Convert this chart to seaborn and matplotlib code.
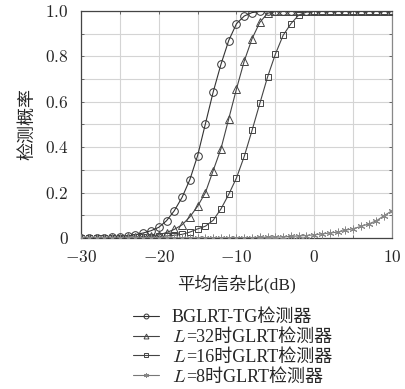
import numpy as np
import pandas as pd
import seaborn as sns
import matplotlib
matplotlib.use("Agg")
import matplotlib.pyplot as plt
from matplotlib.lines import Line2D
from matplotlib.ticker import MultipleLocator
from matplotlib.transforms import Affine2D

snr = list(range(-30, 11))
bglrt = [0.001, 0.001, 0.001, 0.002, 0.003, 0.005, 0.009, 0.015, 0.022, 0.032,
         0.047, 0.076, 0.12, 0.179, 0.257, 0.363, 0.503, 0.643, 0.765, 0.87,
         0.944, 0.978, 0.993, 0.998, 1.0, 1.0, 1.0, 1.0, 1.0, 1.0,
         1.0, 1.0, 1.0, 1.0, 1.0, 1.0, 1.0, 1.0, 1.0, 1.0, 1.0]
glrt32 = [0.001, 0.001, 0.001, 0.001, 0.002, 0.002, 0.003, 0.004, 0.006, 0.009,
          0.014, 0.024, 0.038, 0.058, 0.093, 0.14, 0.2, 0.297, 0.393, 0.525,
          0.657, 0.78, 0.878, 0.95, 0.99, 0.998, 1.0, 1.0, 1.0, 1.0,
          1.0, 1.0, 1.0, 1.0, 1.0, 1.0, 1.0, 1.0, 1.0, 1.0, 1.0]
glrt16 = [0.001, 0.001, 0.001, 0.001, 0.001, 0.002, 0.002, 0.003, 0.004, 0.005,
          0.007, 0.009, 0.012, 0.016, 0.026, 0.04, 0.052, 0.078, 0.128, 0.192,
          0.265, 0.36, 0.474, 0.593, 0.71, 0.81, 0.893, 0.944, 0.982, 0.995,
          0.999, 1.0, 1.0, 1.0, 1.0, 1.0, 1.0, 1.0, 1.0, 1.0, 1.0]
glrt8 = [0.0, 0.0, 0.0, 0.0, 0.0, 0.0, 0.0, 0.0, 0.0, 0.0,
         0.0, 0.0, 0.0, 0.0, 0.0, 0.0, 0.0, 0.0, 0.0, 0.001,
         0.001, 0.002, 0.002, 0.003, 0.003, 0.004, 0.005, 0.007, 0.009, 0.011,
         0.014, 0.018, 0.022, 0.026, 0.034, 0.041, 0.051, 0.062, 0.076, 0.099, 0.12]

# legend labels: italic "L" prefix is drawn separately (mathtext cannot mix with CJK)
label_prefix = ["", "L", "L", "L"]
label_rest = ["BGLRT-TG检测器", "=32时GLRT检测器", "=16时GLRT检测器", "=8时GLRT检测器"]
xticks = [-30, -20, -10, 0, 10]
xticklabels = ["$-30$", "$-20$", "$-10$", "$0$", "$10$"]
yticks = [0, 0.2, 0.4, 0.6, 0.8, 1.0]
yticklabels = ["$0$", "$0.2$", "$0.4$", "$0.6$", "$0.8$", "$1.0$"]

sns.set_theme(style="white")
plt.rcParams['font.family'] = ['Liberation Serif', 'Noto Sans CJK SC', 'DejaVu Sans']
plt.rcParams['mathtext.fontset'] = 'cm'

W, H = 406, 389
fig = plt.figure(figsize=(W / 100, H / 100), dpi=100)
ax = fig.add_axes([81 / W, 1 - 238 / H, (392 - 81) / W, (238 - 11) / H])

markers = ['o', '^', 's', (6, 2, 0)]
colors = ['#333333', '#444444', '#444444', '#777777']
mcolors = ['#333333', '#444444', '#444444', '#888888']
series = [bglrt, glrt32, glrt16, glrt8]
handles = []
for ys, m, c, mc in zip(series, markers, colors, mcolors):
    sns.lineplot(x=snr, y=ys, ax=ax, color=c, linewidth=0.8, marker=m,
                 markersize=5.5 if m != 's' else 4.8, markerfacecolor='none',
                 markeredgecolor=mc, markeredgewidth=0.7, zorder=3)
    handles.append(Line2D([], [], color=c, linewidth=0.8, marker=m,
                          markersize=3.5, markerfacecolor='none',
                          markeredgecolor=mc, markeredgewidth=0.7))

ax.set_xlim(-30, 10)
ax.set_ylim(0, 1.0)
ax.set_xticks(xticks, xticklabels)
ax.set_yticks(yticks, yticklabels)
ax.xaxis.set_minor_locator(MultipleLocator(5))
ax.yaxis.set_minor_locator(MultipleLocator(0.1))
ax.grid(True, which='both', color='#d4d4d4', linewidth=0.8)
ax.set_axisbelow(True)
ax.tick_params(axis='both', which='both', direction='in', length=2.5, width=0.6,
               color='#555555', top=True, right=True, bottom=True, left=True)
ax.tick_params(axis='y', which='major', labelsize=12.5, pad=9)
ax.tick_params(axis='x', which='major', labelsize=12.5, pad=9)
for s in ax.spines.values():
    s.set_color('#444444')
    s.set_linewidth(0.9)
ax.spines['right'].set_color('#888888')

ax.set_xlabel("平均信杂比(dB)", fontsize=12.5, labelpad=6)
ax.set_ylabel("检测概率", fontsize=13, labelpad=6)

LEG_FS = 13
# width of the italic L
renderer = fig.canvas.get_renderer()
probeL = fig.text(0, 0, "$L$", fontsize=LEG_FS + 0.5)
wL = probeL.get_window_extent(renderer).width
probeL.remove()

leg = fig.legend(handles, label_rest, loc='upper left', bbox_to_anchor=(133 / W, 1 - 309 / H),
                 frameon=False, fontsize=LEG_FS, handlelength=1.45, labelspacing=0.16,
                 handletextpad=0.7, borderpad=0, borderaxespad=0)

fig.canvas.draw()
for p, t in zip(label_prefix, leg.get_texts()):
    if p:
        tr = t.get_transform()
        xd, yd = tr.transform(t.get_position())
        fig.text(xd / W, yd / H, "$" + p + "$", fontsize=LEG_FS + 0.5,
                 ha='left', va='baseline', color=t.get_color())
        t.set_transform(tr + Affine2D().translate(wL + 0.5, 0))

fig.savefig("out.png", dpi=100)
